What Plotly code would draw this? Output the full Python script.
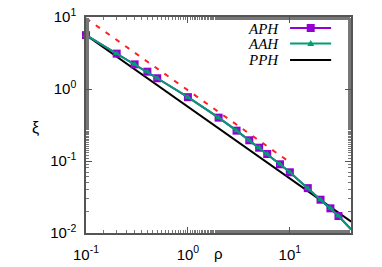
import plotly.graph_objects as go

# data
rho = [0.1, 0.2, 0.3, 0.4, 0.5, 1.0, 2.0, 3.0, 4.0, 5.0, 6.0, 8.0, 10.0, 15.0, 20.0, 25.0, 30.0, 40.0]
xi_aph = [5.6, 3.1, 2.2, 1.74, 1.41, 0.77, 0.40, 0.264, 0.194, 0.153, 0.125, 0.090, 0.0697, 0.042, 0.029, 0.022, 0.0172, 0.0112]
xi_aah = [5.6, 3.1, 2.2, 1.74, 1.41, 0.77, 0.40, 0.264, 0.194, 0.153, 0.125, 0.090, 0.0697, 0.042, 0.029, 0.022, 0.0172, 0.0112]
rho_pph = [0.1, 40.0]
xi_pph = [5.6, 0.0144]
rho_guide = [0.1, 10.0]
xi_guide = [9.6, 0.096]

xtickvals = [0.1, 1, 10]
xticktext = ["10<sup>-1</sup>", "10<sup>0</sup>", "10<sup>1</sup>"]
ytickvals = [0.01, 0.1, 1, 10]
yticktext = ["10<sup>-2</sup>", "10<sup>-1</sup>", "10<sup>0</sup>", "10<sup>1</sup>"]

names = ["APH", "AAH", "PPH"]
PURPLE = "#9400D3"
TEAL = "#009E73"
RED = "#FF2020"

fig = go.Figure()
fig.add_trace(go.Scatter(x=rho_guide, y=xi_guide, mode="lines", cliponaxis=False,
                         line=dict(color=RED, width=2, dash="5px,7px"), showlegend=False))
fig.add_trace(go.Scatter(x=rho_pph, y=xi_pph, mode="lines", cliponaxis=False,
                         line=dict(color="black", width=2), showlegend=False))
fig.add_trace(go.Scatter(x=rho, y=xi_aph, mode="lines+markers", cliponaxis=False,
                         line=dict(color=PURPLE, width=2),
                         marker=dict(symbol="square", size=8, color=PURPLE), showlegend=False))
fig.add_trace(go.Scatter(x=rho, y=xi_aah, mode="lines+markers", cliponaxis=False,
                         line=dict(color=TEAL, width=2),
                         marker=dict(symbol="triangle-up", size=6, color=TEAL), showlegend=False))

axcommon = dict(type="log", showgrid=False, zeroline=False, showline=True, mirror="ticks",
                linecolor="#555", linewidth=1.5, ticks="inside", ticklen=6, tickcolor="#555",
                automargin=False, ticklabeloverflow="allow",
                tickfont=dict(family="Liberation Sans, Arial", size=15, color="black"),
                minor=dict(ticks="inside", ticklen=3, tickcolor="#777", showgrid=False))

fig.update_xaxes(range=[-1, 1.6], tickvals=xtickvals, ticktext=xticktext,
                 ticklabelstandoff=7, **axcommon)
fig.update_yaxes(range=[-2, 1], tickvals=ytickvals, ticktext=yticktext,
                 ticklabelstandoff=5, **axcommon)

# axis labels as annotations (ξ upright, ρ on the tick-label line)
fig.add_annotation(text="ξ", xref="paper", yref="paper", x=-0.211, y=0.486, showarrow=False,
                   font=dict(family="Liberation Sans, Arial", size=16, color="black"))
fig.add_annotation(text="ρ", xref="paper", yref="paper", x=0.5, y=-0.095, showarrow=False,
                   yanchor="middle",
                   font=dict(family="Liberation Sans, Arial", size=15, color="black"))

# custom legend: text left, sample right
rows = [0.949, 0.877, 0.801]
colors = [PURPLE, TEAL, "black"]
symbols = ["square", "triangle", None]
for name, yy, col, sym in zip(names, rows, colors, symbols):
    fig.add_annotation(text="<i>%s</i>" % name, xref="paper", yref="paper", x=0.735, y=yy,
                       xanchor="right", yanchor="middle", showarrow=False, height=15,
                       font=dict(family="Liberation Serif, Times New Roman", size=15, color="black"))
    fig.add_shape(type="line", xref="paper", yref="paper", x0=0.77, x1=0.925, y0=yy, y1=yy,
                  line=dict(color=col, width=2))
    if sym == "square":
        fig.add_shape(type="rect", xref="paper", yref="paper", xsizemode="pixel", ysizemode="pixel",
                      xanchor=0.848, yanchor=yy, x0=-4, x1=4, y0=-4, y1=4,
                      fillcolor=col, line=dict(width=0))
    elif sym == "triangle":
        fig.add_shape(type="path", xref="paper", yref="paper", xsizemode="pixel", ysizemode="pixel",
                      xanchor=0.848, yanchor=yy, path="M -3.5,-2.5 L 3.5,-2.5 L 0,3.5 Z",
                      fillcolor=col, line=dict(width=0))

# page body has an 8px margin, so the figure is sized and offset to compensate
fig.update_layout(width=374, height=259, margin=dict(l=78, r=31, t=9, b=34),
                  plot_bgcolor="white", paper_bgcolor="white", showlegend=False)

fig.write_html("out.html")
